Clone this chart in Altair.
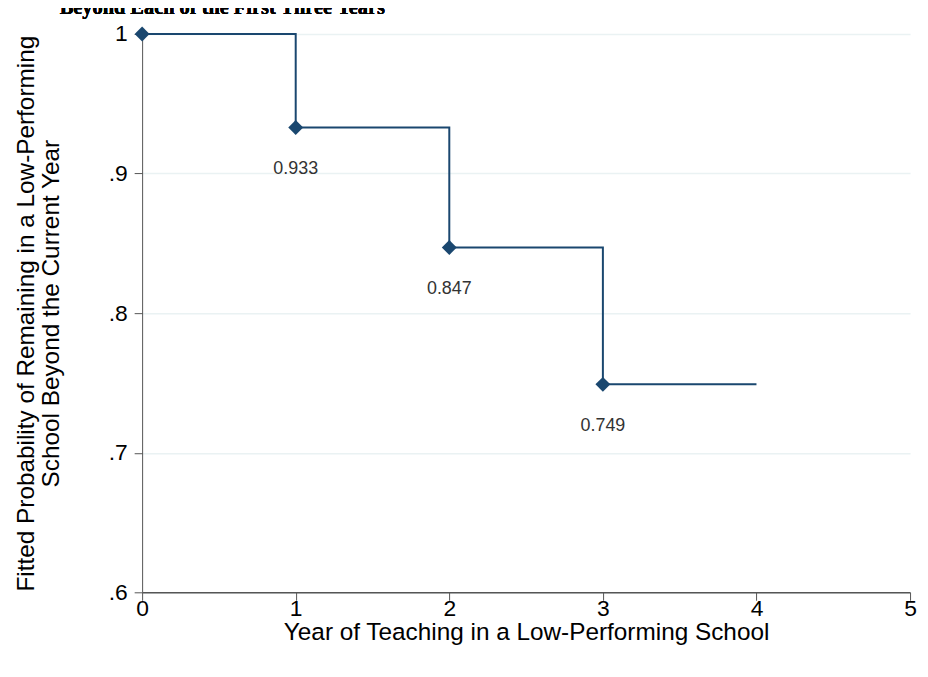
import altair as alt
import pandas as pd

# Data
years = [0, 1, 2, 3, 4]
probs = [1.0, 0.933, 0.847, 0.749, 0.749]
point_years = [0, 1, 2, 3]
point_probs = [1.0, 0.933, 0.847, 0.749]
point_labels = ["", "0.933", "0.847", "0.749"]
x_ticks = [0, 1, 2, 3, 4, 5]
y_ticks = [0.6, 0.7, 0.8, 0.9, 1.0]

title_text = "Beyond Each of the First Three Years"
x_title = "Year of Teaching in a Low-Performing School"
y_title = ["Fitted Probability of Remaining in a Low-Performing",
           "School Beyond the Current Year"]

NAVY = "#1a476f"
FONT = "Liberation Sans"

line_df = pd.DataFrame({"year": years, "prob": probs})
pt_df = pd.DataFrame({"year": point_years, "prob": point_probs, "label": point_labels})

x_enc = alt.X("year:Q",
              scale=alt.Scale(domain=[0, 5], nice=False, zero=False),
              axis=alt.Axis(values=x_ticks, title=x_title, grid=False,
                            labelFontSize=23, titleFontSize=24.5,
                            labelFont=FONT, titleFont=FONT,
                            labelColor="black", titleColor="black",
                            titleFontWeight="normal",
                            domainColor="#555555", tickColor="#555555",
                            tickSize=8, labelPadding=15,
                            labelBaseline="alphabetic",
                            titleBaseline="alphabetic", titleY=48,
                            labelFlush=False, format="d"))
y_enc = alt.Y("prob:Q",
              scale=alt.Scale(domain=[0.6, 1.0], nice=False, zero=False),
              axis=alt.Axis(values=y_ticks, title=y_title,
                            grid=True, gridColor="#eaf2f3", gridWidth=1.5,
                            labelFontSize=23, titleFontSize=24.5,
                            labelFont=FONT, titleFont=FONT,
                            labelColor="black", titleColor="black",
                            titleFontWeight="normal",
                            domainColor="#555555", tickColor="#555555",
                            tickSize=8, labelPadding=7,
                            format=".1~f",
                            labelExpr="replace(datum.label, /^0/, '')",
                            titleAngle=-90, titleAlign="center",
                            titleBaseline="alphabetic",
                            titleX=-109, titleY=281, titleLineHeight=25,
                            labelFlush=False))

line = alt.Chart(line_df).mark_line(interpolate="step-after", color=NAVY,
                                     strokeWidth=2).encode(x=x_enc, y=y_enc)

pts = alt.Chart(pt_df).mark_point(shape="diamond", filled=True, size=225,
                                   color=NAVY, opacity=1).encode(x="year:Q", y="prob:Q")

labels = alt.Chart(pt_df).mark_text(dy=42, fontSize=18, font=FONT,
                                     color="#333333", baseline="middle",
                                     align="center").encode(
    x="year:Q", y="prob:Q", text="label:N")

title = alt.Chart(pt_df).mark_text(align="left", baseline="alphabetic",
                                    font="Liberation Serif", fontSize=20.5,
                                    fontWeight="bold", color="black").encode(
    x=alt.value(-83), y=alt.value(-20), text=alt.value(title_text))

chart = alt.layer(line, pts, labels, title).properties(
    width=773, height=562,
    autosize=alt.AutoSizeParams(type="none"),
    padding={"left": 135, "top": 24, "right": 10, "bottom": 70},
    background="white",
).configure_view(stroke=None).configure_axisX(domainWidth=1.5)

chart.save("out.html", embed_options={"renderer": "svg", "actions": False})
